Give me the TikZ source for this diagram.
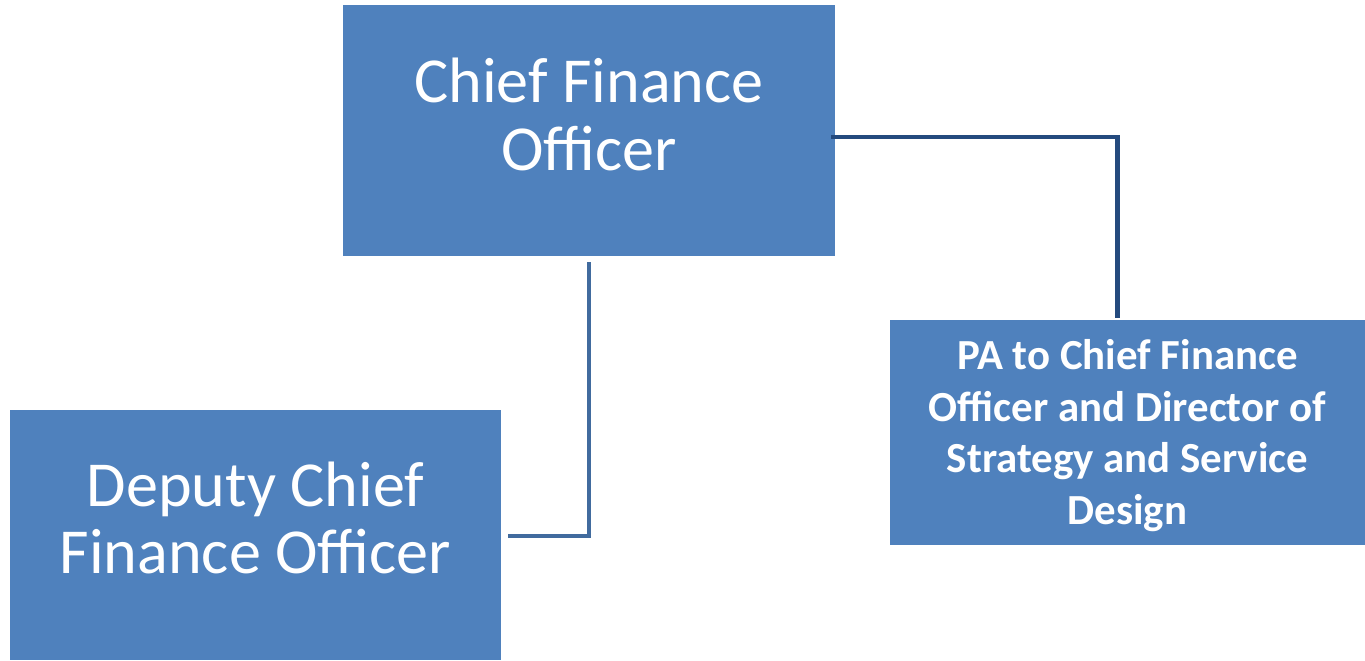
\documentclass[tikz,border=0pt]{standalone}
\usepackage{fontspec}
\setmainfont{Carlito}
\definecolor{boxblue}{HTML}{4F81BD}
\definecolor{linkblue}{HTML}{416B9E}
\definecolor{linkdark}{HTML}{244A7E}
\tikzset{
    rolebox/.style={fill=boxblue, inner sep=0pt},
    roletext/.style={text=white, align=center, inner sep=0pt},
    link/.style={line width=2.3pt}
}
\begin{document}
\begin{tikzpicture}[x=0.02cm, y=-0.02cm]
    %frame
    \useasboundingbox (0,0) rectangle (1365,660);
    %boxes
    \node[rolebox, minimum width=9.84cm, minimum height=5.02cm,
        label={[roletext, yshift=0.32cm, font=\fontsize{36.5}{38.5}\selectfont]center:Chief Finance\\Officer}]
        (cfo) at (589,130.5) {};
    \node[rolebox, minimum width=9.82cm, minimum height=5cm,
        label={[roletext, yshift=0.34cm, font=\fontsize{36.5}{38.5}\selectfont]center:Deputy Chief\\Finance Officer}]
        (dcfo) at (255.5,535) {};
    \node[rolebox, minimum width=9.5cm, minimum height=4.5cm,
        label={[roletext, yshift=-0.06cm, font=\bfseries\fontsize{24.4}{29.3}\selectfont]center:PA to Chief Finance\\Officer and Director of\\Strategy and Service\\Design}]
        (pa) at (1127.5,432.5) {};
    %links
    \draw[link, linkblue] ([yshift=-0.12cm]cfo.south) |- ([xshift=0.14cm, yshift=-0.02cm]dcfo.east);
    \draw[link, linkdark] ([xshift=-0.08cm, yshift=-0.13cm]cfo.east) -| ([xshift=-0.2cm, yshift=0.04cm]pa.north);
\end{tikzpicture}
\end{document}
